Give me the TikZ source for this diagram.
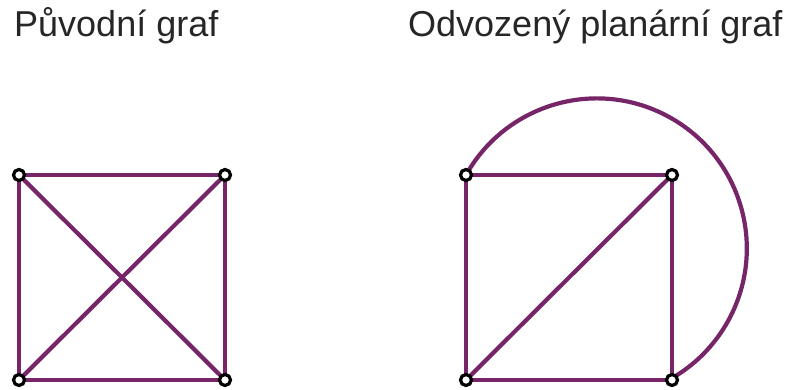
\documentclass[tikz,border=0pt]{standalone}
\usepackage{fontspec}
\setmainfont{Liberation Sans}
\usetikzlibrary{backgrounds}
\definecolor{edgepurple}{RGB}{118,38,104}
\tikzset{
  edge/.style={draw=edgepurple, line width=4.2pt},
  vtx/.style={circle, draw=black, fill=white, line width=3.2pt, minimum size=11pt, inner sep=0pt},
  title/.style={anchor=base west, inner sep=0pt, text=black!85, font=\fontsize{36pt}{40pt}\selectfont}
}
\begin{document}
\begin{tikzpicture}[x=1pt,y=1pt]
\useasboundingbox (0,0) rectangle (789,389);
\node[title] (t1) at (14,352) {Původní graf};
\node[title] (t2) at (408,352) {Odvozený planární graf};
% left graph
\node[vtx] (a1) at (19,214) {};
\node[vtx] (a2) at (225,214) {};
\node[vtx] (a3) at (19,9) {};
\node[vtx] (a4) at (225,9) {};
% right graph
\node[vtx] (b1) at (466,214) {};
\node[vtx] (b2) at (672,214) {};
\node[vtx] (b3) at (466,9) {};
\node[vtx] (b4) at (672,9) {};
\begin{scope}[on background layer]
\draw[edge] (a1.center) -- (a2.center) -- (a4.center) -- (a3.center) -- cycle;
\draw[edge] (a1.center) -- (a4.center);
\draw[edge] (a2.center) -- (a3.center);
\draw[edge] (b1.center) -- (b2.center) -- (b4.center) -- (b3.center) -- cycle;
\draw[edge] (b3.center) -- (b2.center);
\draw[edge] (b1.center) arc[start angle=150.7, end angle=-60.4, radius=150];
\end{scope}
\end{tikzpicture}
\end{document}
